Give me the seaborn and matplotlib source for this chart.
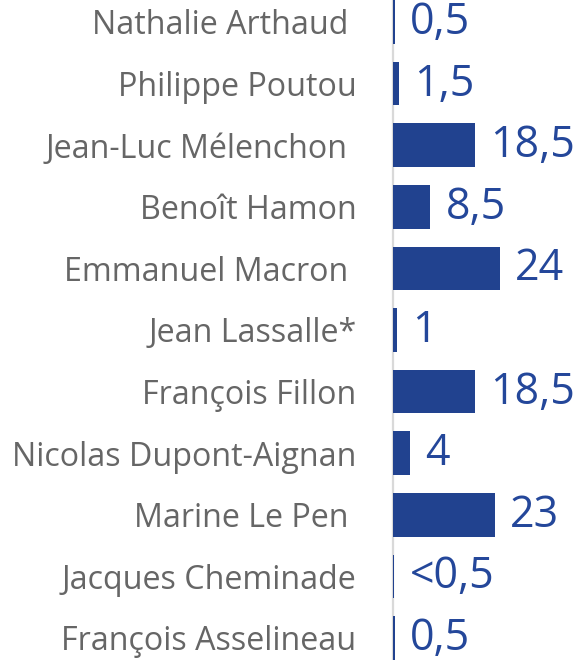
import matplotlib
matplotlib.use("Agg")
import matplotlib.pyplot as plt
import seaborn as sns
import pandas as pd

candidates = ["Nathalie Arthaud ", "Philippe Poutou", "Jean-Luc Mélenchon ", "Benoît Hamon",
              "Emmanuel Macron ", "Jean Lassalle*", "François Fillon", "Nicolas Dupont-Aignan",
              "Marine Le Pen ", "Jacques Cheminade", "François Asselineau"]
values = [0.5, 1.5, 18.5, 8.5, 24, 1, 18.5, 4, 23, 0.4, 0.5]
value_labels = ["0,5", "1,5", "18,5", "8,5", "24", "1", "18,5", "4", "23", "<0,5", "0,5"]

sns.set_theme(style="white")
plt.rcParams['font.family'] = ['Open Sans', 'DejaVu Sans']

df = pd.DataFrame({"name": candidates, "value": values})

fig = plt.figure(figsize=(5.76, 6.6), dpi=100)
ax = fig.add_axes([392.5/576, -8.8/660, 183.5/576, 677.6/660])

bar_color = "#21428f"
sns.barplot(data=df, x="value", y="name", orient="h", color=bar_color,
            width=0.71, saturation=1, ax=ax)
for p in ax.patches:
    p.set_zorder(3)
    p.set_linewidth(0)

ax.set_xlim(0, 183.5/4.46)
ax.set_ylim(10.5, -0.5)
ax.set_xlabel("")
ax.set_ylabel("")
ax.set_xticks([])
ax.tick_params(axis="y", length=0, pad=26, labelsize=23.2, labelcolor="#666666")
for s in ["top", "right", "bottom"]:
    ax.spines[s].set_visible(False)
ax.spines["left"].set_color("#d9d9d9")
ax.spines["left"].set_linewidth(1.6)

for i, (v, lab) in enumerate(zip(values, value_labels)):
    ax.annotate(lab, xy=(v, i), xytext=(11, -0.5), textcoords="offset points",
                ha="left", va="center", fontsize=31, color="#24479a")

fig.savefig("out.png", dpi=100)
